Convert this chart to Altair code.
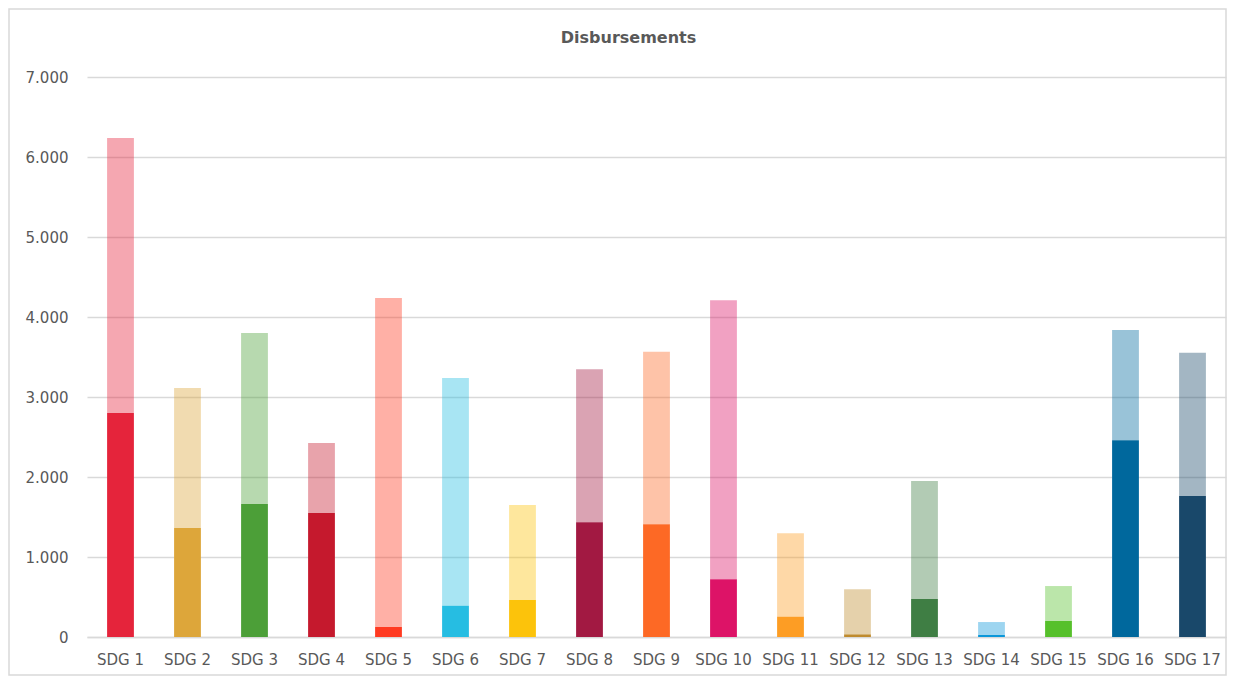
import altair as alt
import pandas as pd

categories = [f"SDG {i}" for i in range(1, 18)]
disbursed = [2800, 1362, 1662, 1550, 125, 391, 462, 1433, 1408, 721, 254, 33, 475, 25, 200, 2458, 1762]
totals = [6237, 3112, 3800, 2425, 4237, 3237, 1650, 3346, 3567, 4208, 1296, 596, 1950, 187, 637, 3837, 3554]
colors = ["#E5243B", "#DDA63A", "#4C9F38", "#C5192D", "#FF3A21", "#26BDE2", "#FCC30B", "#A21942",
          "#FD6925", "#DD1367", "#FD9D24", "#BF8B2E", "#3F7E44", "#0A97D9", "#56C02B", "#00689D", "#19486A"]
title_text = "Disbursements"

rows = []
for c, d, t, col in zip(categories, disbursed, totals, colors):
    rows.append({"sdg": c, "part": "lower", "value": d, "color": col, "ord": 0})
    rows.append({"sdg": c, "part": "upper", "value": t - d, "color": col, "ord": 1})
df = pd.DataFrame(rows)

FONT = "DejaVu Sans"
GRAY = "#595959"
W, H = 1139, 560

bars = alt.Chart(df).mark_bar().encode(
    x=alt.X("sdg:N", sort=categories, title=None,
            scale=alt.Scale(paddingInner=0.6, paddingOuter=0.3),
            axis=alt.Axis(labelAngle=0, ticks=False, domainColor="#d9d9d9", domainWidth=1.5,
                          labelPadding=15, labelFont=FONT, labelFontSize=15, labelColor=GRAY,
                          grid=False)),
    y=alt.Y("value:Q", stack="zero", title=None,
            scale=alt.Scale(domain=[0, 7000]),
            axis=alt.Axis(values=list(range(0, 7001, 1000)), domain=False, ticks=False,
                          labelPadding=19, labelFont=FONT, labelFontSize=15, labelColor=GRAY,
                          gridColor="#d9d9d9", gridWidth=1.5,
                          labelExpr="replace(format(datum.value, ',d'), ',', '.')")),
    color=alt.Color("color:N", scale=None, legend=None),
    opacity=alt.Opacity("part:N", scale=alt.Scale(domain=["lower", "upper"], range=[1, 0.4]), legend=None),
    order=alt.Order("ord:Q"),
)

frame = alt.Chart(pd.DataFrame({"a": [0]})).mark_rect(
    fill=None, stroke="#d9d9d9", strokeWidth=1.5
).encode(
    x=alt.value(-78), x2=alt.value(W), y=alt.value(-68), y2=alt.value(H + 38)
)

title = alt.Chart(pd.DataFrame({"t": [title_text]})).mark_text(
    font=FONT, fontSize=16, fontWeight="bold", color=GRAY, align="center", baseline="middle"
).encode(
    text="t:N", x=alt.value(W / 2 - 28), y=alt.value(-39)
)

chart = alt.layer(frame, bars, title).properties(
    width=W, height=H,
    autosize=alt.AutoSizeParams(type="none"),
    padding={"left": 79, "top": 69, "right": 2, "bottom": 40},
).configure_view(stroke=None)

chart.save("out.html", embed_options={"renderer": "svg", "actions": False})
